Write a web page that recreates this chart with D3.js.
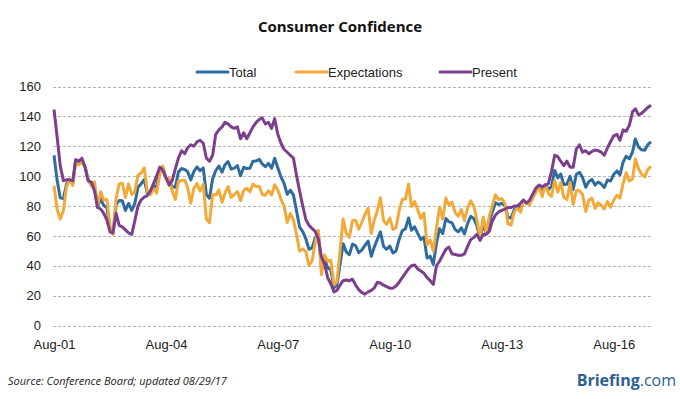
<!DOCTYPE html>
<html>
<head>
<meta charset="utf-8">
<script src="https://cdn.jsdelivr.net/npm/d3@7"></script>
<style>
  html, body { margin: 0; padding: 0; background: #fff; }
  svg { display: block; }
</style>
</head>
<body>
<svg id="chart" width="680" height="399"></svg>
<script>
// ---------- data ----------
const startMonth = [2001, 7];   // Aug 2001 (month index 7)
const seriesNames = ["Total", "Expectations", "Present"];
const seriesColors = ["#2E6C9F", "#F2A93A", "#7C3F8E"];
const yTicks = [0, 20, 40, 60, 80, 100, 120, 140, 160];
const xTickLabels = ["Aug-01", "Aug-04", "Aug-07", "Aug-10", "Aug-13", "Aug-16"];

const total = [
  114.0, 97.0, 85.5, 84.9, 94.6,
  97.8, 95.0, 110.2, 108.5, 110.3, 106.3, 97.4, 94.5, 93.7, 79.6, 84.9, 80.3,
  78.8, 64.8, 61.4, 81.0, 83.6, 83.5, 77.0, 81.7, 77.0, 81.7, 92.5, 94.8,
  97.7, 88.5, 88.5, 93.0, 93.1, 102.8, 105.7, 98.7, 96.7, 92.9, 92.6, 102.7,
  105.1, 104.4, 103.0, 97.5, 103.1, 106.2, 103.6, 105.5, 87.5, 85.2, 98.3, 103.6,
  106.8, 102.7, 107.5, 109.8, 104.7, 105.4, 107.0, 100.2, 105.9, 105.1, 105.3, 110.0,
  110.2, 111.2, 108.2, 106.3, 108.5, 105.3, 111.9, 105.6, 99.5, 95.2, 87.8, 90.6,
  87.3, 76.4, 65.9, 62.8, 58.1, 51.0, 51.9, 58.5, 61.4, 38.8, 44.7, 38.6,
  37.4, 25.3, 26.9, 40.8, 54.8, 49.3, 47.4, 54.5, 53.4, 48.7, 50.6, 53.6,
  56.5, 46.4, 52.3, 57.7, 62.7, 52.9, 51.0, 53.2, 48.6, 49.9, 57.8, 63.4,
  64.8, 72.0, 63.8, 66.0, 61.7, 57.6, 59.2, 45.2, 46.4, 40.9, 55.2, 64.8,
  61.5, 71.6, 69.5, 68.7, 64.4, 62.7, 65.4, 61.3, 68.4, 73.1, 71.5, 66.7,
  58.4, 68.0, 61.9, 69.0, 76.2, 82.1, 81.0, 81.8, 80.2, 72.4, 72.0, 77.5,
  79.4, 78.3, 83.9, 81.7, 82.2, 86.4, 90.3, 93.4, 89.0, 94.1, 91.0, 93.1,
  103.8, 98.8, 101.4, 94.3, 94.6, 99.8, 91.0, 101.3, 102.6, 99.1, 92.6, 96.3,
  97.8, 94.0, 96.1, 94.7, 92.4, 97.4, 96.7, 101.1, 103.5, 100.8, 109.4, 113.3,
  111.6, 116.1, 124.9, 119.4, 117.6, 117.3, 121.1, 122.9
];

const expectations = [
  93.6, 77.7, 71.2, 76.8, 92.7,
  98.0, 93.7, 109.7, 107.5, 109.2, 106.5, 97.7, 93.5, 96.2, 80.0, 89.5, 83.8,
  84.3, 66.3, 61.0, 85.0, 94.7, 95.2, 85.7, 94.8, 87.7, 89.5, 100.8, 102.0,
  105.5, 89.5, 87.5, 91.7, 88.5, 100.7, 106.8, 98.5, 98.5, 90.2, 84.3, 96.5,
  97.2, 97.3, 92.3, 81.8, 91.8, 95.0, 90.0, 94.5, 71.2, 68.7, 87.8, 87.3,
  90.7, 82.5, 88.5, 93.0, 85.8, 87.7, 89.7, 83.7, 90.5, 91.8, 89.5, 94.7,
  93.0, 93.3, 87.7, 87.2, 90.2, 87.5, 94.2, 90.7, 84.5, 80.0, 69.0, 75.0,
  70.8, 60.7, 49.8, 51.3, 49.5, 40.3, 43.2, 55.5, 63.7, 34.0, 47.2, 43.0,
  43.7, 27.2, 29.2, 50.0, 71.3, 61.8, 59.0, 70.2, 70.5, 64.5, 69.0, 74.5,
  78.5, 61.5, 70.5, 76.8, 85.5, 70.2, 67.7, 72.0, 64.3, 65.5, 77.0, 84.3,
  84.7, 94.7, 79.7, 83.0, 77.5, 71.7, 75.3, 54.0, 57.3, 49.8, 65.3, 79.3,
  71.2, 85.3, 80.8, 82.5, 75.7, 73.2, 77.7, 70.2, 78.7, 83.5, 79.8, 70.5,
  59.3, 72.7, 62.5, 73.0, 80.3, 87.5, 84.3, 85.0, 81.7, 68.0, 67.3, 75.8,
  79.0, 75.8, 83.8, 81.5, 81.0, 85.3, 89.2, 93.0, 86.3, 94.2, 88.3, 86.5,
  97.0, 89.3, 95.7, 85.8, 84.3, 95.7, 81.0, 90.2, 90.3, 87.8, 76.3, 83.8,
  85.3, 78.3, 82.2, 80.5, 78.0, 83.0, 79.2, 83.8, 87.2, 85.3, 95.0, 102.2,
  96.7, 98.2, 111.5, 105.0, 101.3, 99.5, 104.5, 106.5
];

const present = [
  144.6, 126.0, 107.0, 97.0, 97.5,
  97.5, 97.0, 111.0, 110.0, 112.0, 106.0, 97.0, 96.0, 90.0, 79.0, 78.0, 75.0,
  70.5, 62.5, 62.0, 75.0, 67.0, 66.0, 64.0, 62.0, 61.0, 70.0, 80.0, 84.0,
  86.0, 87.0, 90.0, 95.0, 100.0, 106.0, 104.0, 99.0, 94.0, 97.0, 105.0, 112.0,
  117.0, 115.0, 119.0, 121.0, 120.0, 123.0, 124.0, 122.0, 112.0, 110.0, 114.0, 128.0,
  131.0, 133.0, 136.0, 135.0, 133.0, 132.0, 133.0, 125.0, 129.0, 125.0, 129.0, 133.0,
  136.0, 138.0, 139.0, 135.0, 136.0, 132.0, 138.5, 128.0, 122.0, 118.0, 116.0, 114.0,
  112.0, 100.0, 90.0, 80.0, 71.0, 67.0, 65.0, 63.0, 58.0, 46.0, 41.0, 32.0,
  28.0, 22.5, 23.5, 27.0, 30.0, 30.5, 30.0, 31.0, 27.0, 24.0, 22.0, 21.0,
  22.5, 23.5, 25.0, 29.0, 28.5, 27.0, 26.0, 25.0, 25.0, 26.5, 29.0, 32.0,
  35.0, 38.0, 40.0, 40.5, 38.0, 36.5, 35.0, 32.0, 30.0, 27.5, 40.0, 43.0,
  47.0, 51.0, 52.5, 48.0, 47.5, 47.0, 47.0, 48.0, 53.0, 57.5, 59.0, 61.0,
  57.0, 61.0, 61.0, 63.0, 70.0, 74.0, 76.0, 77.0, 78.0, 79.0, 79.0, 80.0,
  80.0, 82.0, 84.0, 82.0, 84.0, 88.0, 92.0, 94.0, 93.0, 94.0, 95.0, 103.0,
  114.0, 113.0, 110.0, 107.0, 110.0, 106.0, 106.0, 118.0, 121.0, 116.0, 117.0, 115.0,
  116.5, 117.5, 117.0, 116.0, 114.0, 119.0, 123.0, 127.0, 128.0, 124.0, 131.0, 130.0,
  134.0, 143.0, 145.0, 141.0, 142.0, 144.0, 146.0, 147.5
];

// ---------- chart ----------
const svg = d3.select("#chart");
const months = total.map((_, i) => new Date(startMonth[0], startMonth[1] + i, 1));

const x = d3.scaleTime()
  .domain([months[0], months[months.length - 1]])
  .range([54, 651]);
const y = d3.scaleLinear().domain([0, 160]).range([325.5, 86.5]);

// title
svg.append("text")
  .attr("x", 340).attr("y", 32)
  .attr("text-anchor", "middle")
  .style("font-family", "'Open Sans', sans-serif")
  .style("font-weight", "700")
  .style("font-size", "15px")
  .style("fill", "#111")
  .text("Consumer Confidence");

// grid
svg.append("g").selectAll("line").data(yTicks).join("line")
  .attr("x1", 53).attr("x2", 651)
  .attr("y1", d => Math.round(y(d)) + 0.5).attr("y2", d => Math.round(y(d)) + 0.5)
  .attr("stroke", "#b5b5b5").attr("stroke-width", 1)
  .attr("stroke-dasharray", "3,2");

// y axis labels
const yAxis = d3.axisLeft(y).tickValues(yTicks).tickSize(0).tickPadding(0);
svg.append("g")
  .attr("transform", "translate(41,0)")
  .call(yAxis)
  .call(g => g.select(".domain").remove())
  .selectAll("text")
  .style("font-family", "'Liberation Sans', Arial, sans-serif")
  .style("font-size", "13px")
  .style("fill", "#222");

// x axis labels
const xTickDates = xTickLabels.map((_, i) => months[i * 36]);
const xAxis = d3.axisBottom(x).tickValues(xTickDates)
  .tickFormat((d, i) => xTickLabels[i]).tickSize(0).tickPadding(0);
svg.append("g")
  .attr("transform", "translate(0,340)")
  .call(xAxis)
  .call(g => g.select(".domain").remove())
  .selectAll("text")
  .style("font-family", "'Liberation Sans', Arial, sans-serif")
  .style("font-size", "13px")
  .style("fill", "#222");

// lines
const seriesData = [total, expectations, present];
const line = d3.line().x((d, i) => x(months[i])).y(d => y(d));
svg.append("g").selectAll("path").data(seriesData).join("path")
  .attr("d", d => line(d))
  .attr("fill", "none")
  .attr("stroke", (d, i) => seriesColors[i])
  .attr("stroke-width", 3)
  .attr("stroke-linejoin", "round");

// legend
const legendX = [197, 296, 440];
const lg = svg.append("g").selectAll("g").data(seriesNames).join("g")
  .attr("transform", (d, i) => `translate(${legendX[i]},72)`);
lg.append("line").attr("x1", 0).attr("x2", 31).attr("y1", 0).attr("y2", 0)
  .attr("stroke", (d, i) => seriesColors[i]).attr("stroke-width", 3)
  .attr("stroke-linecap", "round");
lg.append("text").attr("x", 32).attr("y", 4.5)
  .style("font-family", "'Liberation Sans', Arial, sans-serif")
  .style("font-size", "13px")
  .style("fill", "#222")
  .text(d => d);

// source
svg.append("text")
  .attr("x", 8).attr("y", 385)
  .style("font-family", "'Open Sans', sans-serif")
  .style("font-style", "italic")
  .style("font-size", "11px")
  .style("fill", "#222")
  .text("Source: Conference Board; updated 08/29/17");

// brand
const brand = svg.append("text")
  .attr("x", 676).attr("y", 386)
  .attr("text-anchor", "end")
  .style("font-family", "'Open Sans', sans-serif")
  .style("font-size", "16px")
  .style("fill", "#2D5F93");
brand.append("tspan").style("font-weight", "700").text("Briefing");
brand.append("tspan").style("font-weight", "400").text(".com");
</script>
</body>
</html>
